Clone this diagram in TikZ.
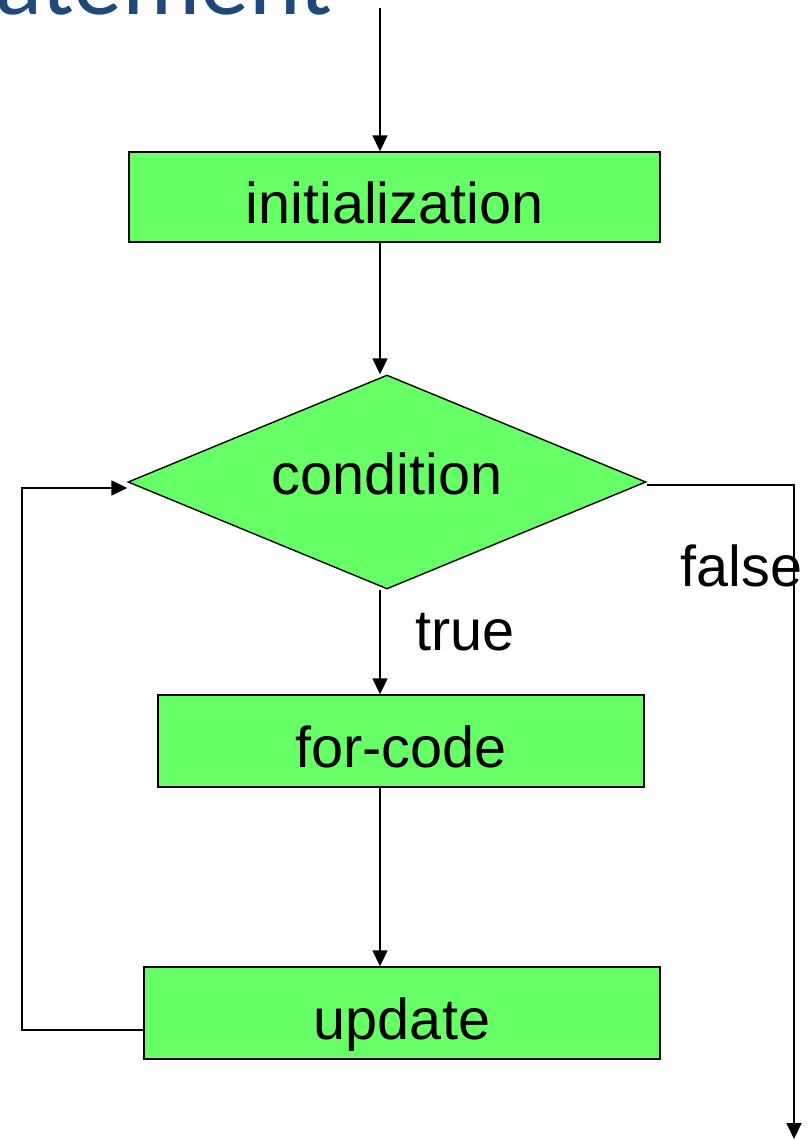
\documentclass[tikz,border=0pt]{standalone}
\usepackage{fontspec}
\setmainfont{Liberation Sans}
\newfontfamily\titlefont{Carlito}
\usetikzlibrary{shapes.geometric,arrows.meta,positioning,calc}
\definecolor{boxGreen}{HTML}{66FF66}
\definecolor{titleBlue}{HTML}{1F497D}

\begin{document}
\begin{tikzpicture}[x=0.5pt,y=-0.5pt,
  box/.style={draw,fill=boxGreen,line width=0.7pt,inner sep=0pt,minimum height=46pt,font=\fontsize{28.8}{34}\selectfont,text height=26pt,text depth=0pt},
  test/.style={diamond,draw,fill=boxGreen,line width=0.7pt,inner sep=0pt,shape aspect=2.42,minimum width=259pt,minimum height=107pt,font=\fontsize{28.8}{34}\selectfont,text height=14pt,text depth=2pt},
  arr/.style={-{Triangle[length=8pt,width=7.5pt]},line width=0.9pt},
  lbl/.style={font=\fontsize{28.8}{34}\selectfont,inner sep=0pt,anchor=base west}
]
  \useasboundingbox (0,0) rectangle (808,1140);
  \clip (0,0) rectangle (808,1140);
  % cut-off slide title
  \node[inner sep=0pt,anchor=base west,text=titleBlue,font=\titlefont\fontsize{49}{56}\selectfont] (title) at (-5,14) {atement};
  \coordinate (start) at (380,8);
  \coordinate (back) at (22,1030);
  \coordinate (exit) at (794,1139);
  \node[box,minimum width=265.5pt,minimum height=45pt] (init) at (394.5,197) {initialization};
  \node[test] (cond) at (387,482) {condition};
  \node[box,minimum width=243pt] (fcode) at (401,741) {for-code};
  \node[box,minimum width=258pt] (update) at (402,1013) {update};
  \node[lbl] (truelbl) at (415,650) {true};
  \node[lbl] (falselbl) at (680,586) {false};
  \draw[arr] (start) -- (init.north -| start);
  \draw[arr] (init.south -| start) -- (cond.north -| start);
  \draw[arr] (cond.south -| start) -- (fcode.north -| start);
  \draw[arr] (fcode.south -| start) -- (update.north -| start);
  \draw[arr] ([yshift=-8.5pt]update.west) -- (back) |- ([yshift=-3pt]cond.west);
  \draw[arr] ([yshift=-1.5pt]cond.east) -| (exit);
\end{tikzpicture}
\end{document}
